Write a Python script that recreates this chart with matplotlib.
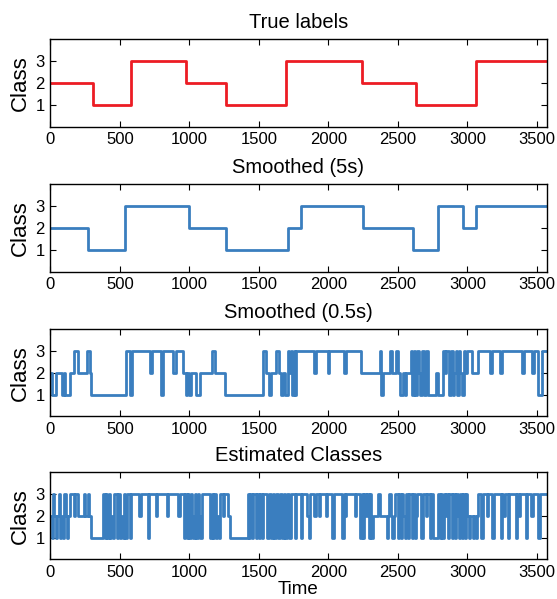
import numpy as np
import matplotlib
matplotlib.use('Agg')
import matplotlib.pyplot as plt

plt.rcParams['font.family'] = ['Liberation Sans', 'DejaVu Sans']

T_END = 3570

# true labels: (start time, class)
true_t = [0, 305, 580, 978, 1265, 1697, 2245, 2629, 3059]
true_c = [2, 1, 3, 2, 1, 3, 2, 1, 3]

# smoothed 5 s
sm5_t = [0, 269, 535, 996, 1262, 1710, 1805, 2250, 2611, 2790, 2970, 3059]
sm5_c = [2, 1, 3, 2, 1, 2, 3, 2, 1, 3, 2, 3]

# smoothed 0.5 s
sm05_t = [0, 13, 44, 85, 99, 109, 140, 171, 200, 265, 284, 296, 547, 575, 588,
          715, 732, 799, 811, 883, 907, 954, 973, 985, 995, 1014, 1045, 1078,
          1165, 1182, 1254, 1530, 1554, 1570, 1590, 1626, 1646, 1660, 1675,
          1690, 1710, 1720, 1730, 1740, 1752, 1762, 1770, 1900, 1912, 1996,
          2008, 2115, 2127, 2235, 2372, 2381, 2390, 2445, 2460, 2490, 2500,
          2515, 2540, 2548, 2560, 2595, 2605, 2615, 2625, 2640, 2650, 2660,
          2672, 2685, 2700, 2714, 2776, 2790, 2822, 2840, 2850, 2870, 2880,
          2895, 2905, 2915, 2925, 2940, 2950, 2960, 2975, 2985, 3001, 3037,
          3078, 3165, 3175, 3238, 3248, 3395, 3405, 3466, 3476, 3511, 3535]
sm05_c = [2, 1, 2, 1, 2, 1, 2, 3, 2, 3, 2, 1, 3, 1, 3,
          2, 3, 1, 3, 2, 3, 2, 1, 2, 1, 2, 1, 2,
          3, 2, 1, 3, 2, 1, 2, 3, 2, 1, 2,
          1, 3, 2, 3, 1, 3, 1, 3, 2, 3, 2,
          3, 2, 3, 2, 3, 1, 2, 3, 2, 3, 2,
          1, 2, 1, 2, 3, 1, 3, 1, 3, 2, 1,
          3, 1, 3, 1, 2, 1, 3, 2, 3, 1, 3,
          1, 2, 3, 1, 3, 2, 1, 3, 2, 3, 2,
          3, 2, 3, 2, 3, 2, 3, 2, 3, 1, 3]

# estimated classes, one digit per 10 s bin
est_str = ("213212312132123"      # 0-150
           "33233"                # 150-200
           "222232232"            # 200-290
           "111111111"            # 290-380
           "313131213313121313313"  # 380-590
           "3333323333313333323333333233333"  # 590-900
           "332333"               # 900-960
           "13131321313213"       # 960-1100
           "33333"                # 1100-1150
           "1313121"              # 1150-1220
           "3323332"              # 1220-1290
           "1"                    # 1290-1300
           "111111111111"         # 1300-1420
           "3131331313133313313133133131331333133"  # 1420-1790
           "31333" "32133" "32332" "33332" "33331" "33333" "31323" "33333" "2333"
           "13132" "31312" "22232" "22221" "23212" "33131" "32131" "33131" "23"
           "33133" "23313" "11113" "13132" "31331" "31321" "31313"
           "21221212"             # 3000-3080
           "33133" "32333" "13333" "31323" "31333" "33132" "33331" "33323"
           "33313" "3333")
est_c = [int(ch) for ch in est_str]
est_t = list(np.arange(len(est_c)) * 10)

RED = '#ec1c24'
BLUE = '#3a7ebf'


def steps(ax, t, c, color):
    x = list(t) + [T_END]
    y = list(c) + [c[-1]]
    ax.step(x, y, where='post', color=color, linewidth=2.0)


fig = plt.figure(figsize=(5.57, 5.99), dpi=100)
bottoms = [0.7888, 0.5467, 0.3047, 0.0660]
panels = [(true_t, true_c, RED, 'True labels'),
          (sm5_t, sm5_c, BLUE, 'Smoothed (5s)'),
          (sm05_t, sm05_c, BLUE, 'Smoothed (0.5s)'),
          (est_t, est_c, BLUE, 'Estimated Classes')]

for b, (t, c, col, title) in zip(bottoms, panels):
    ax = fig.add_axes([0.0903, b, 0.891, 0.146])
    steps(ax, t, c, col)
    ax.set_xlim(0, T_END)
    ax.set_ylim(0, 4)
    ax.set_xticks(np.arange(0, 3501, 500))
    ax.set_yticks([1, 2, 3])
    ax.tick_params(direction='in', top=True, right=True, length=4,
                   labelsize=12, pad=4)
    ax.set_title(title, fontsize=14.5, pad=8)
    ax.set_ylabel('Class', fontsize=16, labelpad=3)
    for s in ax.spines.values():
        s.set_linewidth(1.0)

ax.set_xlabel('Time', fontsize=13.5, labelpad=1)

fig.savefig('out.png', dpi=100)
